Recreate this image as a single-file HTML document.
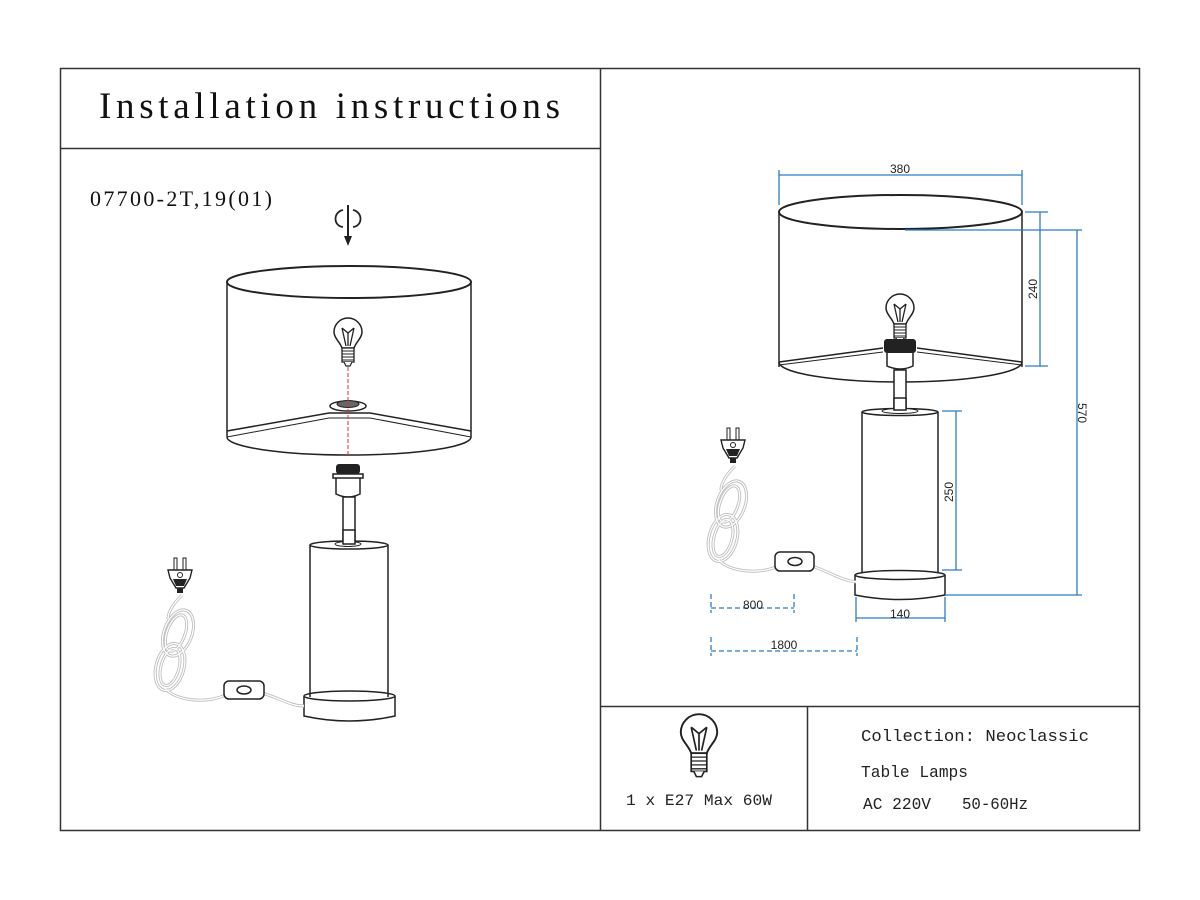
<!DOCTYPE html>
<html><head><meta charset="utf-8"><style>
html,body{margin:0;padding:0;background:#fff;}
svg{display:block}
</style></head><body>
<svg width="1200" height="900" viewBox="0 0 1200 900" xmlns="http://www.w3.org/2000/svg">
<defs>
<g id="bulb">
 <path d="M-6,4 C-8,-2 -14,-6 -14,-12 A14,14 0 1 1 14,-12 C14,-6 8,-2 6,4 Z" fill="#fff" stroke="#222" stroke-width="1.5"/>
 <path d="M-6,-16 L-2,2 M6,-16 L2,2 M-6,-16 L0,-11 L6,-16 M0,-11 L0,2" stroke="#222" stroke-width="1.3" fill="none"/>
 <rect x="-6" y="4" width="12" height="14" fill="#fff" stroke="#222" stroke-width="1.3"/>
 <path d="M-6,7 H6 M-6,10 H6 M-6,13 H6 M-6,16 H6" stroke="#222" stroke-width="1"/>
 <path d="M-4,18 L-2,22 H2 L4,18" fill="#fff" stroke="#222" stroke-width="1.2"/>
</g>
<g id="plug">
 <rect x="-6" y="-22" width="3" height="12" fill="#fff" stroke="#222"/>
 <rect x="3" y="-22" width="3" height="12" fill="#fff" stroke="#222"/>
 <path d="M-12,-10 H12 L10,-2 L4,8 H-4 L-10,-2 Z" fill="#fff" stroke="#222" stroke-width="1.4"/>
 <circle cx="0" cy="-5" r="2.5" fill="#fff" stroke="#222"/>
 <path d="M-7,-1 H7 L4,6 H-4 Z" fill="#222"/>
 <rect x="-3" y="8" width="6" height="5" fill="#222"/>
</g>
<g id="coil" fill="none">
 <g stroke="#bbb" stroke-width="3">
  <path d="M0,0 C-8,8 -14,16 -14,24"/>
  <ellipse cx="-4" cy="38" rx="14" ry="24" transform="rotate(20 -4 38)"/>
  <ellipse cx="-6" cy="38" rx="9" ry="19" transform="rotate(20 -6 38)"/>
  <ellipse cx="-12" cy="72" rx="14" ry="24" transform="rotate(15 -12 72)"/>
  <ellipse cx="-12" cy="72" rx="9" ry="19" transform="rotate(15 -12 72)"/>
  <path d="M-16,94 C-8,104 20,110 44,100"/>
 </g>
 <g stroke="#fff" stroke-width="1.3">
  <path d="M0,0 C-8,8 -14,16 -14,24"/>
  <ellipse cx="-4" cy="38" rx="14" ry="24" transform="rotate(20 -4 38)"/>
  <ellipse cx="-6" cy="38" rx="9" ry="19" transform="rotate(20 -6 38)"/>
  <ellipse cx="-12" cy="72" rx="14" ry="24" transform="rotate(15 -12 72)"/>
  <ellipse cx="-12" cy="72" rx="9" ry="19" transform="rotate(15 -12 72)"/>
  <path d="M-16,94 C-8,104 20,110 44,100"/>
 </g>
</g>
</defs>

<rect x="60.5" y="68.5" width="1079" height="762" fill="none" stroke="#333" stroke-width="1.5"/>
<line x1="600.5" y1="68" x2="600.5" y2="831" stroke="#333" stroke-width="1.5"/>
<line x1="60" y1="148.5" x2="600" y2="148.5" stroke="#333" stroke-width="1.5"/>
<line x1="600" y1="706.5" x2="1140" y2="706.5" stroke="#333" stroke-width="1.5"/>
<line x1="807.5" y1="706" x2="807.5" y2="831" stroke="#333" stroke-width="1.5"/>

<text x="99" y="118" font-family="Liberation Serif, serif" font-size="37" textLength="461" lengthAdjust="spacing" fill="#111">Installation instructions</text>
<text x="90" y="206" font-family="Liberation Serif, serif" font-size="22" textLength="182" lengthAdjust="spacing" fill="#111">07700-2T,19(01)</text>

<path d="M343,210 C333,212 333,226 343,227 M353,210 C363,212 363,226 353,227" fill="none" stroke="#222" stroke-width="1.8"/>
<line x1="348" y1="205" x2="348" y2="238" stroke="#222" stroke-width="2"/>
<path d="M344,236 L348,246 L352,236 Z" fill="#222"/>

<!-- LEFT LAMP -->
<path d="M227,282 V437 M471,282 V437" stroke="#222" stroke-width="1.5"/>
<ellipse cx="349" cy="282" rx="122" ry="16" fill="none" stroke="#222" stroke-width="2"/>
<path d="M227,437 A122,18 0 0 0 471,437" fill="none" stroke="#222" stroke-width="1.5"/>
<path d="M227,431 L329,413 H370 L471,431" fill="none" stroke="#222" stroke-width="1.5"/>
<path d="M227,437 L329,418 H370 L471,437" fill="none" stroke="#222" stroke-width="1"/>
<ellipse cx="348" cy="406" rx="18" ry="5" fill="#fff" stroke="#222" stroke-width="1.5"/>
<ellipse cx="348" cy="404" rx="11" ry="3.5" fill="#666" stroke="#222"/>
<use href="#bulb" transform="translate(348,344)"/>
<line x1="348" y1="367" x2="348" y2="456" stroke="#d33" stroke-width="1" stroke-dasharray="4,2"/>
<rect x="336" y="464" width="24" height="10" rx="3" fill="#222"/>
<path d="M333,474 H363 V478 H333 Z M336,478 V494 Q348,500 360,494 V478" fill="#fff" stroke="#222" stroke-width="1.5"/>
<rect x="343" y="497" width="12" height="44" fill="#fff" stroke="#222" stroke-width="1.5"/>
<path d="M310,545 V690 M388,545 V690" stroke="#222" stroke-width="1.5"/>
<ellipse cx="349" cy="545" rx="39" ry="4" fill="#fff" stroke="#222" stroke-width="1.5"/>
<ellipse cx="348" cy="544" rx="13" ry="2.5" fill="#fff" stroke="#222"/>
<rect x="343" y="530" width="12" height="14" fill="#fff" stroke="#222" stroke-width="1.5"/>
<path d="M304,696 V716 Q349,726 395,716 V696" fill="#fff" stroke="#222" stroke-width="1.5"/>
<ellipse cx="349.5" cy="696" rx="45.5" ry="5" fill="#fff" stroke="#222" stroke-width="1.5"/>
<path d="M310,690 V697 M388,690 V697" stroke="#222" stroke-width="1.5"/>
<use href="#coil" transform="translate(182,595)"/>
<path d="M262,693 C280,698 290,706 304,706" fill="none" stroke="#bbb" stroke-width="3"/>
<path d="M262,693 C280,698 290,706 304,706" fill="none" stroke="#fff" stroke-width="1.4"/>
<rect x="224" y="681" width="40" height="18" rx="5" fill="#fff" stroke="#222" stroke-width="1.5"/>
<ellipse cx="244" cy="690" rx="7" ry="4" fill="#fff" stroke="#222" stroke-width="1.5"/>
<use href="#plug" transform="translate(180,580)"/>

<!-- RIGHT LAMP -->
<path d="M779,212 V367 M1022,212 V367" stroke="#222" stroke-width="1.5"/>
<ellipse cx="900.5" cy="212" rx="121.5" ry="17" fill="none" stroke="#222" stroke-width="2"/>
<path d="M779,362 A121.5,20 0 0 0 1022,362" fill="none" stroke="#222" stroke-width="1.5"/>
<path d="M779,362 L883,348 M917,348 L1022,362" stroke="#222" stroke-width="1.5"/>
<path d="M779,365 L883,352 M917,352 L1022,365" stroke="#222" stroke-width="1"/>
<use href="#bulb" transform="translate(900,320)"/>
<rect x="884" y="339" width="32" height="14" rx="3" fill="#222"/>
<path d="M887,353 V366 Q900,372 913,366 V353" fill="#fff" stroke="#222" stroke-width="1.5"/>
<rect x="894" y="370" width="12" height="41" fill="#fff" stroke="#222" stroke-width="1.5"/>
<path d="M862,412 V575 M938,412 V575" stroke="#222" stroke-width="1.5"/>
<ellipse cx="900" cy="412" rx="38" ry="3.5" fill="#fff" stroke="#222" stroke-width="1.5"/>
<ellipse cx="900" cy="411" rx="18" ry="2.5" fill="#fff" stroke="#222"/>
<rect x="894" y="398" width="12" height="12" fill="#fff" stroke="#222" stroke-width="1.5"/>
<path d="M855,575 V595 Q900,604 945,595 V575" fill="#fff" stroke="#222" stroke-width="1.5"/>
<ellipse cx="900" cy="575" rx="45" ry="4.5" fill="#fff" stroke="#222" stroke-width="1.5"/>
<use href="#coil" transform="translate(735,466)"/>
<path d="M812,566 C830,572 840,580 856,582" fill="none" stroke="#bbb" stroke-width="3"/>
<path d="M812,566 C830,572 840,580 856,582" fill="none" stroke="#fff" stroke-width="1.4"/>
<rect x="775" y="552" width="39" height="19" rx="5" fill="#fff" stroke="#222" stroke-width="1.5"/>
<ellipse cx="795" cy="561.5" rx="7" ry="4" fill="#fff" stroke="#222" stroke-width="1.5"/>
<use href="#plug" transform="translate(733,450)"/>

<g stroke="#2e7cc0" stroke-width="1.3" fill="none">
 <path d="M779,175 H1022 M779,170 V205 M1022,170 V205"/>
 <path d="M1040,212 V366 M1025,212 H1048 M1025,366 H1048"/>
 <path d="M905,230 H1082 M945,595 H1082 M1077,230 V595"/>
 <path d="M956,411 V570 M942,411 H962 M942,570 H962"/>
 <path d="M856,618 H945 M856,597 V622 M945,597 V622"/>
 <path d="M711,608 H794 M711,594 V613 M794,594 V613 M711,651 H857 M711,637 V656 M857,637 V656" stroke-dasharray="5,3"/>
</g>
<g font-family="Liberation Sans, sans-serif" font-size="12" fill="#222">
 <text x="900" y="173" text-anchor="middle">380</text>
 <text transform="translate(1037,289) rotate(-90)" text-anchor="middle">240</text>
 <text transform="translate(1078,413) rotate(90)" text-anchor="middle">570</text>
 <text transform="translate(953,492) rotate(-90)" text-anchor="middle">250</text>
 <text x="900" y="618" text-anchor="middle">140</text>
 <text x="753" y="609" text-anchor="middle">800</text>
 <text x="784" y="649" text-anchor="middle">1800</text>
</g>

<use href="#bulb" transform="translate(699,748) scale(1.3)"/>
<g font-family="Liberation Mono, monospace" fill="#222">
 <text x="626" y="805" font-size="16" textLength="146" lengthAdjust="spacingAndGlyphs">1 x E27 Max 60W</text>
 <text x="861" y="741" font-size="17" textLength="228" lengthAdjust="spacingAndGlyphs">Collection: Neoclassic</text>
 <text x="861" y="777" font-size="17" textLength="107" lengthAdjust="spacingAndGlyphs">Table Lamps</text>
 <text x="863" y="809" font-size="17" textLength="68" lengthAdjust="spacingAndGlyphs">AC 220V</text>
 <text x="962" y="809" font-size="17" textLength="66" lengthAdjust="spacingAndGlyphs">50-60Hz</text>
</g>
</svg>
</body></html>
